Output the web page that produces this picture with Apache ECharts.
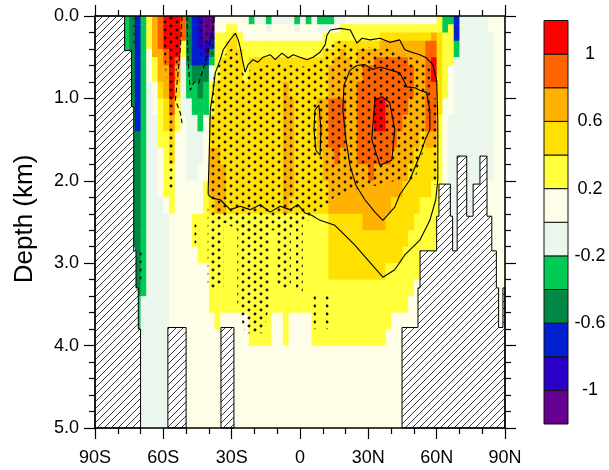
<!DOCTYPE html>
<html><head><meta charset="utf-8">
<script src="https://cdn.jsdelivr.net/npm/echarts@6/dist/echarts.min.js"></script>
<style>html,body{margin:0;padding:0;background:#fff;}#chart{width:609px;height:470px;}</style>
</head><body><div id="chart"></div>
<script>
// ---------- DATA ----------
const latEdges = [-77.5,-75,-72.5,-70,-67.5,-65,-62.5,-60,-57.5,-55,-52.5,-50,-47.5,-45,-42.5,-40,-37.5,-35,-32.5,-30,-27.5,-25,-22.5,-20,-17.5,-15,-12.5,-10,-7.5,-5,-2.5,0,2.5,5,7.5,10,12.5,15,17.5,20,22.5,25,27.5,30,32.5,35,37.5,40,42.5,45,47.5,50,52.5,55,57.5,60,62.5,65,67.5,70,72.5,75,77.5,80,82.5,85,87.5,90];
const depthEdges = [0,0.1,0.2,0.3,0.4,0.5,0.6,0.8,1.0,1.2,1.4,1.6,1.8,2.0,2.2,2.4,2.6,2.8,3.0,3.2,3.4,3.6,3.8,4.0,4.5,5.0];
// anomaly profiles, one per latitude band (top to bottom), null = land
const anomalyByLat = [
[-.3,-.3,-.3,-.3,-.3,null,null,null,null,null,null,null,null,null,null,null,null,null,null,null,null,null,null,null,null],
[-.5,-.5,-.5,-.5,-.5,-.5,-.5,-.5,-.5,-.5,-.5,-.5,-.5,-.5,-.5,-.5,-.5,null,null,null,null,null,null,null,null],
[-.7,-.7,-.7,-.7,-.7,-.7,-.7,-.7,-.7,-.7,-.5,-.5,-.5,-.5,-.5,-.5,-.5,-.5,-.5,-.5,-.3,-.3,null,null,null],
[-.3,-.3,-.3,-.3,-.3,-.3,-.3,-.3,-.3,-.3,-.3,-.3,-.3,-.3,-.3,-.3,-.3,-.3,-.3,-.3,-.1,-.1,-.1,-.1,-.1],
[.3,.3,.3,.3,.1,.1,.1,-.1,-.1,-.1,-.1,-.1,-.1,-.1,-.1,-.1,-.1,-.1,-.1,-.1,-.1,-.1,-.1,-.1,-.1],
[.7,.7,.7,.7,.7,.3,.3,.1,.1,-.1,-.1,-.1,-.1,-.1,-.1,-.1,-.1,-.1,-.1,-.1,-.1,-.1,-.1,-.1,-.1],
[.9,.9,.9,.9,.7,.7,.7,.5,.3,.3,.3,.1,.1,.1,-.1,-.1,-.1,-.1,-.1,-.1,-.1,-.1,-.1,-.1,-.1],
[1.1,1.1,1.1,1.1,.9,.9,.7,.7,.5,.5,.3,.3,.3,.3,.1,-.1,-.1,-.1,-.1,-.1,-.1,-.1,-.1,-.1,-.1],
[1.1,1.1,1.1,1.1,1.1,1.1,1.1,1.1,.9,.7,.5,.5,.3,.3,.3,.1,.1,.1,.1,.1,.1,.1,null,null,null],
[1.1,1.1,1.1,1.1,1.1,.9,.7,.5,.3,.3,.1,.1,.1,.1,.1,.1,.1,.1,.1,.1,.1,.1,null,null,null],
[.9,.9,.9,.3,.3,-.1,-.1,-.1,-.1,.1,.1,.1,.1,.1,.1,.1,.1,.1,.1,.1,.1,.1,null,null,null],
[-.5,-.5,-.5,-.5,-.5,-.5,-.3,-.3,-.1,-.1,-.1,-.1,-.1,.1,.1,.1,.1,.1,.1,.1,.1,.1,.1,.1,.1],
[-.7,-.7,-.7,-.7,-.7,-.7,-.5,-.3,-.3,-.1,-.1,-.1,-.1,.1,.1,.3,.3,.1,.1,.1,.1,.1,.1,.1,.1],
[-.9,-.9,-.9,-.9,-.7,-.7,-.5,-.5,-.3,-.3,-.1,-.1,.1,.1,.1,.3,.3,.3,.1,.1,.1,.1,.1,.1,.1],
[-1.1,-1.1,-1.1,-.9,-.9,-.7,-.5,-.3,-.3,.1,.1,.1,.1,.3,.3,.3,.3,.3,.1,.1,.1,.1,.1,.1,.1],
[-1.1,-1.1,-.9,-.7,-.5,-.3,-.1,.3,.3,.5,.5,.7,.7,.7,.5,.3,.3,.3,.3,.3,.3,.1,.1,.1,.1],
[.1,.1,.3,.3,.3,.3,.3,.5,.5,.5,.5,.7,.7,.7,.7,.3,.3,.3,.3,.3,.3,.3,.1,.1,.1],
[.1,.1,.3,.3,.3,.5,.5,.5,.5,.5,.5,.5,.7,.7,.7,.3,.3,.3,.3,.3,.3,.1,null,null,null],
[.1,.3,.3,.5,.5,.5,.5,.5,.5,.5,.5,.5,.5,.5,.5,.3,.3,.3,.3,.3,.3,.1,null,null,null],
[.1,.3,.5,.5,.5,.5,.5,.5,.5,.5,.5,.5,.5,.5,.5,.3,.3,.3,.3,.3,.3,.1,.1,.1,.1],
[.1,.1,.3,.3,.5,.5,.5,.5,.5,.5,.5,.5,.5,.5,.5,.3,.3,.3,.3,.3,.3,.1,.1,.1,.1],
[.1,.1,.1,.3,.3,.3,.3,.5,.5,.5,.5,.5,.5,.5,.5,.3,.3,.3,.3,.3,.3,.1,.1,.1,.1],
[-.3,.1,.1,.3,.3,.5,.5,.5,.5,.5,.5,.5,.5,.5,.5,.3,.3,.3,.3,.3,.3,.3,.3,.1,.1],
[-.1,.1,.1,.3,.3,.5,.5,.5,.5,.5,.5,.5,.5,.5,.5,.3,.3,.3,.3,.3,.3,.3,.3,.1,.1],
[-.1,.1,.1,.3,.3,.5,.5,.5,.5,.5,.5,.5,.5,.5,.5,.3,.3,.3,.3,.3,.3,.3,.3,.1,.1],
[-.3,-.1,.1,.3,.3,.5,.5,.5,.5,.5,.5,.5,.5,.5,.5,.3,.3,.3,.3,.3,.3,.3,.3,.1,.1],
[-.1,.1,.1,.3,.3,.5,.5,.5,.5,.5,.5,.5,.5,.5,.5,.3,.3,.3,.3,.3,.3,.1,.1,.1,.1],
[-.1,.1,.1,.3,.3,.5,.5,.5,.5,.5,.5,.5,.5,.5,.5,.3,.3,.3,.3,.3,.3,.1,.1,.1,.1],
[-.1,.1,.1,.3,.3,.5,.5,.7,.7,.7,.7,.7,.7,.7,.7,.3,.3,.3,.3,.3,.3,.3,.3,.1,.1],
[-.1,.1,.1,.3,.3,.5,.5,.5,.7,.7,.7,.7,.7,.7,.5,.3,.3,.3,.3,.3,.3,.1,.1,.1,.1],
[-.3,-.1,.1,.3,.3,.5,.5,.5,.5,.5,.5,.5,.5,.5,.5,.3,.3,.3,.3,.3,.3,.1,.1,.1,.1],
[-.1,.1,.1,.3,.3,.5,.5,.5,.5,.5,.5,.5,.5,.5,.5,.3,.3,.3,.3,.3,.3,.1,.1,.1,.1],
[-.3,.1,.1,.3,.3,.5,.5,.5,.5,.5,.5,.5,.5,.5,.5,.3,.3,.3,.3,.3,.3,.1,.1,.1,.1],
[-.1,.1,.1,.3,.3,.5,.5,.5,.5,.5,.5,.5,.5,.5,.5,.3,.3,.3,.3,.3,.3,.3,.3,.1,.1],
[-.3,-.1,.1,.3,.3,.5,.5,.5,.7,.7,.7,.5,.5,.5,.5,.3,.3,.3,.3,.3,.3,.3,.3,.1,.1],
[-.3,-.1,.3,.3,.5,.5,.5,.5,.7,.7,.7,.7,.7,.5,.5,.3,.3,.3,.3,.3,.3,.3,.3,.1,.1],
[-.3,.1,.3,.3,.5,.5,.7,.7,.9,.9,.9,.7,.7,.7,.7,.5,.5,.5,.5,.3,.3,.3,.3,.1,.1],
[-.1,.1,.3,.5,.5,.7,.7,.7,.9,.9,.9,.9,.7,.7,.7,.5,.5,.5,.5,.3,.3,.3,.3,.1,.1],
[-.1,.3,.3,.5,.7,.7,.7,.7,.9,.9,.9,.7,.7,.7,.7,.5,.5,.5,.5,.3,.3,.3,.3,.1,.1],
[.1,.3,.3,.5,.5,.7,.7,.7,.7,.7,.7,.7,.7,.7,.7,.5,.5,.5,.5,.3,.3,.3,.3,.1,.1],
[.1,.3,.3,.5,.5,.5,.7,.7,.7,.7,.7,.7,.7,.7,.7,.5,.5,.5,.5,.3,.3,.3,.3,.1,.1],
[.1,.3,.3,.5,.7,.7,.7,.9,.9,.9,.9,.9,.7,.7,.7,.5,.5,.5,.5,.3,.3,.3,.3,.1,.1],
[.1,.3,.3,.5,.7,.7,.9,.9,.9,.9,.9,.9,.7,.7,.7,.7,.5,.5,.5,.3,.3,.3,.3,.1,.1],
[.1,.3,.3,.5,.7,.7,.9,.9,.9,.9,.9,.9,.9,.7,.7,.7,.5,.5,.5,.3,.3,.3,.3,.1,.1],
[.1,.3,.3,.5,.7,.9,.9,.9,1.1,1.1,.9,.9,.7,.7,.7,.7,.5,.5,.5,.3,.3,.3,.3,.1,.1],
[.1,.3,.5,.7,.7,.9,.9,.9,1.1,1.1,.9,.9,.7,.7,.7,.7,.5,.5,.5,.3,.3,.3,.3,.1,.1],
[.1,.3,.5,.7,.7,.9,.9,.9,.9,.9,.9,.9,.7,.7,.7,.5,.5,.5,.3,.3,.3,.3,.1,.1,.1],
[.1,.3,.5,.7,.7,.9,.9,.9,.9,.9,.9,.7,.7,.7,.5,.5,.5,.5,.3,.3,.3,.1,.1,.1,.1],
[.1,.3,.5,.7,.7,.9,.9,.9,.9,.9,.7,.7,.7,.7,.5,.5,.5,.5,.3,.3,.3,.1,.1,.1,.1],
[.1,.3,.5,.7,.7,.9,.9,.9,.9,.7,.7,.7,.7,.5,.5,.5,.5,.3,.3,.3,.3,.1,null,null,null],
[.1,.3,.5,.7,.7,.7,.9,.9,.7,.7,.7,.7,.5,.5,.5,.5,.3,.3,.3,.3,.1,.1,null,null,null],
[.1,.3,.5,.7,.7,.7,.7,.7,.7,.7,.7,.5,.5,.5,.5,.3,.3,.3,.3,.1,.1,.1,null,null,null],
[.1,.3,.5,.7,.7,.7,.7,.7,.7,.7,.5,.5,.5,.5,.3,.3,.3,.3,null,null,null,null,null,null,null],
[.1,.3,.5,.9,.9,.9,.9,.9,.9,.9,.7,.5,.5,.5,.3,.3,.3,.3,null,null,null,null,null,null,null],
[.1,.3,.7,.9,.9,1.1,1.1,.9,.9,.9,.7,.5,.5,.3,.3,.3,.3,.3,null,null,null,null,null,null,null],
[.3,.3,.5,.5,.5,.5,.5,.5,.5,.3,.3,.3,.3,.3,.3,null,null,null,null,null,null,null,null,null,null],
[-.3,-.3,.3,.3,.3,.3,.3,.3,.1,.1,.1,.1,.1,.1,null,null,null,null,null,null,null,null,null,null,null],
[-.3,.3,.3,.3,.3,.3,.1,.1,.1,-.1,-.1,-.1,-.1,-.1,-.1,-.1,-.1,null,null,null,null,null,null,null,null],
[-.7,-.7,-.7,-.3,-.3,-.1,-.1,-.1,-.1,-.1,-.1,-.1,-.1,-.1,-.1,-.1,-.1,-.1,null,null,null,null,null,null,null],
[-.1,-.1,-.1,-.1,-.1,-.1,-.1,-.1,-.1,-.1,-.1,-.1,null,null,null,null,null,null,null,null,null,null,null,null,null],
[-.1,-.1,-.1,-.1,-.1,-.1,-.1,-.1,-.1,-.1,-.1,-.1,-.1,-.1,-.1,null,null,null,null,null,null,null,null,null,null],
[-.1,-.1,-.1,-.1,-.1,-.1,-.1,-.1,-.1,-.1,-.1,-.1,-.1,-.1,-.1,null,null,null,null,null,null,null,null,null,null],
[-.1,-.1,-.1,-.1,-.1,-.1,-.1,-.1,-.1,-.1,-.1,-.1,-.1,-.1,null,null,null,null,null,null,null,null,null,null,null],
[-.1,-.1,-.1,-.1,-.1,-.1,-.1,-.1,-.1,-.1,-.1,-.1,null,null,null,null,null,null,null,null,null,null,null,null,null],
[.1,.1,-.1,-.1,-.1,-.1,-.1,-.1,-.1,-.1,-.1,-.1,-.1,.1,.1,.1,.1,null,null,null,null,null,null,null,null],
[.1,.1,.1,.1,.1,.1,.1,.1,.1,.1,.1,.1,.1,.1,.1,.1,.1,.1,.1,.1,.1,.1,null,null,null],
[.1,.1,.1,.1,.1,.1,.1,.1,.1,.1,.1,.1,.1,.1,.1,.1,.1,.1,.1,.1,.1,.1,null,null,null]
];
const latTickLabels = ['90S','60S','30S','0','30N','60N','90N'];
const cbBounds = [-1.2,-1,-0.8,-0.6,-0.4,-0.2,0,0.2,0.4,0.6,0.8,1,1.2];
const cbTickValues = [-1,-0.6,-0.2,0.2,0.6,1];
const cbTickLabels = ['-1','-0.6','-0.2','0.2','0.6','1'];
// bathymetry (lat, depth km)
const landWest = [[-90,0],[-77,0],[-77,0.42],[-74,0.42],[-74,1.1],[-73,1.1],[-73,2.85],[-72,2.85],[-72,3.3],[-71,3.3],[-71,3.8],[-70,3.8],[-70,5],[-90,5]];
const landRidge58S = [[-58,3.78],[-50,3.78],[-50,5],[-58,5]];
const landRidge32S = [[-34.7,3.78],[-29,3.78],[-29,5],[-34.7,5]];
const landArctic = [[44.8,5],[44.8,3.78],[51.8,3.78],[51.8,3.3],[52.7,3.3],[52.7,2.85],[60,2.85],[60,2.43],[61,2.43],[61,2.04],[66,2.04],[66,2.43],[67,2.43],[67,2.85],[69,2.85],[69,1.7],[73.2,1.7],[73.2,2.43],[76,2.43],[76,2.04],[79,2.04],[79,1.7],[82.1,1.7],[82.1,2.43],[84.2,2.43],[84.2,2.85],[86.2,2.85],[86.2,3.3],[87.2,3.3],[87.2,3.78],[89.1,3.78],[89.1,3.3],[90,3.3],[90,5]];
// significance (stippled) regions
const sigTail60S = [[-60.6,0],[-52,0],[-53.5,0.5],[-55.6,1.0],[-55.8,2.1],[-57.8,2.1],[-58,1.0],[-59.5,0.5]];
const sigCoast74S = [[-74,0.02],[-72.6,0.02],[-72.6,0.38],[-74,0.38]];
const sigSlope71S = [[-71.3,2.85],[-69.6,2.85],[-69.6,3.25],[-71.3,3.25]];
const sigNeg42S = [[-44,0.05],[-37.2,0.05],[-38.5,0.5],[-43.5,0.5]];
const sigMain = [[-38,0.75],[-35,0.55],[-31.5,0.42],[-28.5,0.38],[-27,0.5],[-24,0.78],[-22,0.65],[-15,0.6],[-8,0.58],[0,0.62],[5,0.6],[9,0.52],[12,0.35],[18,0.3],[24,0.4],[30,0.38],[40,0.4],[48,0.5],[55,0.55],[57,0.62],[57,1.1],[55.5,1.4],[53,1.8],[50,2.0],[42,2.0],[35,2.05],[25,2.1],[15,2.2],[8,2.4],[3,2.5],[-5,2.6],[-15,2.6],[-27,2.6],[-34,2.5],[-39.5,2.3],[-39.8,1.5],[-39,1.0]];
const sigDeepA = [[-40.5,2.3],[-33.5,2.3],[-33.5,3.3],[-40.5,3.3]];
const sigDeepB = [[-27.5,2.5],[-13.5,2.5],[-13.5,3.5],[-16,3.85],[-24,3.85],[-27.5,3.5]];
const sigDeepC = [[-10.5,2.5],[-4,2.5],[-4,3.3],[-10.5,3.3]];
const sigDeepD = [[-1.8,2.5],[1.2,2.5],[1.2,3.35],[-1.8,3.35]];
const sigDeepE = [[4.8,3.35],[7,3.35],[7,3.8],[4.8,3.8]];
const sigDeepF = [[11.3,3.35],[13.5,3.35],[13.5,3.8],[11.3,3.8]];
const sigSlope45S = [[-46.3,2.5],[-44.2,2.5],[-44.2,2.8],[-46.3,2.8]];
const sig60N = [[57.5,1.0],[60,1.0],[60,2.05],[57.5,2.05]];
// contour lines (lat, depth km)
const contourOuter = [[-40.3,2.17],[-40.3,2.11],[-39.8,1.63],[-39.4,1.14],[-38.1,0.9],[-37.2,0.69],[-35,0.53],[-33.7,0.41],[-31.5,0.32],[-29.3,0.24],[-28.4,0.21],[-27.1,0.29],[-26.2,0.39],[-25.5,0.5],[-24.1,0.68],[-22.8,0.59],[-20.6,0.53],[-18.5,0.56],[-16.2,0.5],[-13.1,0.47],[-10.9,0.53],[-7.9,0.45],[-5.2,0.51],[-3,0.47],[0,0.5],[3.1,0.53],[5.7,0.5],[8.8,0.44],[11,0.35],[11.9,0.23],[13.3,0.17],[17.7,0.15],[22.1,0.17],[25,0.33],[27.2,0.27],[30.8,0.29],[35.1,0.27],[39.4,0.32],[43.8,0.29],[46,0.41],[49,0.44],[52.6,0.47],[55.6,0.51],[58.3,0.59],[60,0.78],[60.5,1.26],[60.5,1.99],[59.6,2.23],[57,2.48],[52.6,2.72],[46,2.9],[41.6,3.08],[36.4,3.17],[30.7,2.99],[24.1,2.78],[19.7,2.66],[15.3,2.54],[8.8,2.48],[5.3,2.42],[2.2,2.39],[-0.9,2.29],[-4.4,2.35],[-8.7,2.31],[-13.1,2.38],[-17.5,2.29],[-21.9,2.35],[-26.3,2.31],[-30.6,2.35],[-35,2.23],[-38.5,2.21],[-40.3,2.17]];
const contourInner = [[21.9,0.66],[25,0.6],[28.5,0.59],[32,0.65],[35.1,0.62],[40.3,0.66],[43.8,0.69],[46.9,0.86],[50.4,0.87],[52.6,0.9],[55.6,0.93],[57,1.14],[57,1.38],[55,1.5],[52.6,1.69],[48.2,1.99],[43.8,2.17],[41.6,2.32],[36.4,2.48],[32.9,2.38],[28.5,2.23],[24.5,2.05],[21.9,1.81],[20.2,1.5],[18.8,1.14],[19.3,0.84],[21.9,0.66]];
const contourCore = [[32.9,1.02],[36,0.98],[39.4,1.05],[41.6,1.38],[40.3,1.75],[35.1,1.81],[31.5,1.5],[32.9,1.02]];
const contour7N = [[6.6,1.14],[8.3,1.08],[9.2,1.38],[8.8,1.69],[7,1.63],[6.1,1.38],[6.6,1.14]];
const contourNegA = [[-51.8,0],[-52.5,0.38],[-54,0.82],[-54.7,1.02],[-52.5,1.18],[-51.8,1.3]];
const contourNegB = [[-49.6,0],[-49.3,0.4],[-48.5,0.8],[-48.2,0.9],[-46.5,0.8],[-44.5,0.82],[-42,0.6],[-40.5,0.45],[-38.5,0.2],[-37.5,0]];

// ---------- STYLE ----------
const palette = ['#660090','#2A00C8','#0020D0','#008844','#00CC55','#EBF6EC','#FEFEE8','#FFFF3C','#FFE000','#FFB000','#FF6400','#FF0000'];
const levelBounds = cbBounds.slice(1, -1);
function colorOf(v){ let k = 0; while (k < levelBounds.length && v > levelBounds[k]) k++; return palette[k]; }
const FONT = '"Liberation Sans", Arial, Helvetica, sans-serif';

function makeHatch(){
  const s = 7, c = document.createElement('canvas'); c.width = s; c.height = s;
  const g = c.getContext('2d'); g.fillStyle = '#fff'; g.fillRect(0,0,s,s);
  g.strokeStyle = '#222'; g.lineWidth = 0.9; g.beginPath();
  g.moveTo(-1, s+1); g.lineTo(s+1, -1); g.moveTo(-1,1); g.lineTo(1,-1); g.moveTo(s-1,s+1); g.lineTo(s+1,s-1); g.stroke();
  return c;
}
function makeDots(){
  const c = document.createElement('canvas'); c.width = 12; c.height = 8;
  const g = c.getContext('2d'); g.fillStyle = '#111';
  g.beginPath(); g.arc(3,2,1.45,0,Math.PI*2); g.fill();
  g.beginPath(); g.arc(9,6,1.45,0,Math.PI*2); g.fill();
  return c;
}
const hatchFill = {image: makeHatch(), repeat: 'repeat'};
const dotFill = {image: makeDots(), repeat: 'repeat'};

// cells
const cells = [];
for (let i = 0; i < anomalyByLat.length; i++) {
  for (let j = 0; j < depthEdges.length - 1; j++) {
    const v = anomalyByLat[i][j];
    if (v === null) continue;
    cells.push([latEdges[i], latEdges[i+1], depthEdges[j], depthEdges[j+1], v]);
  }
}
const cbCells = [];
for (let k = 0; k < cbBounds.length - 1; k++) cbCells.push([0, 1, cbBounds[k], cbBounds[k+1], k]);

function polySeries(polys, style, z){
  return {type:'custom', xAxisIndex:0, yAxisIndex:0, z, silent:true, animation:false,
    data: polys.map((p,k)=>[k]),
    renderItem:(params, api)=>({type:'polygon', shape:{points: polys[params.dataIndex].map(pt=>api.coord(pt))}, style: Object.assign({}, style)})};
}
function lineSeries(pts, dashed){
  return {type:'line', xAxisIndex:0, yAxisIndex:0, z:5, silent:true, animation:false, data:pts, showSymbol:false, symbol:'none',
    lineStyle:{color:'#000', width:1.1, type: dashed ? [5,3] : 'solid'}};
}

const axisCommon = {
  axisLine:{show:true, onZero:false, lineStyle:{color:'#000', width:1.6}},
  axisTick:{show:true, length:11, lineStyle:{color:'#000', width:1.2}},
  minorTick:{show:true, length:6, lineStyle:{color:'#000', width:1.2}},
  splitLine:{show:false}, minorSplitLine:{show:false}, z:10
};

const chart = echarts.init(document.getElementById('chart'), null, {renderer:'canvas'});
chart.setOption({
  animation:false,
  backgroundColor:'#fff',
  grid:[
    {left:95, right:104, top:16, bottom:42, containLabel:false, outerBoundsMode:'none'},
    {left:544, right:41, top:20.5, bottom:46, containLabel:false, outerBoundsMode:'none'}
  ],
  xAxis:[
    Object.assign({type:'value', gridIndex:0, position:'bottom', min:-90, max:90, interval:30,
      axisLabel:{show:true, margin:21, fontSize:18, fontFamily:FONT, color:'#000', showMinLabel:true, showMaxLabel:true,
        formatter:(v)=>latTickLabels[Math.round((v+90)/30)]}}, axisCommon,
      {minorTick:Object.assign({}, axisCommon.minorTick, {splitNumber:3})}),
    Object.assign({type:'value', gridIndex:0, position:'top', min:-90, max:90, interval:30, axisLabel:{show:false}}, axisCommon,
      {minorTick:Object.assign({}, axisCommon.minorTick, {splitNumber:3})}),
    {type:'value', gridIndex:1, min:0, max:1, show:false}
  ],
  yAxis:[
    Object.assign({type:'value', gridIndex:0, position:'left', inverse:true, min:0, max:5, interval:1,
      axisLabel:{show:true, margin:16, fontSize:18, fontFamily:FONT, color:'#000', showMinLabel:true, showMaxLabel:true,
        formatter:(v)=>v.toFixed(1)}}, axisCommon,
      {minorTick:Object.assign({}, axisCommon.minorTick, {splitNumber:5})}),
    Object.assign({type:'value', gridIndex:0, position:'right', inverse:true, min:0, max:5, interval:1, axisLabel:{show:false}}, axisCommon,
      {minorTick:Object.assign({}, axisCommon.minorTick, {splitNumber:5})}),
    {type:'value', gridIndex:1, position:'right', min:-1.2, max:1.2, interval:0.2,
      axisLine:{show:false}, axisTick:{show:false}, splitLine:{show:false},
      axisLabel:{show:true, margin:22, align:'center', fontSize:18, fontFamily:FONT, color:'#000', showMinLabel:true, showMaxLabel:true,
        formatter:(v)=>{ for (let k=0;k<cbTickValues.length;k++) if (Math.abs(v-cbTickValues[k])<1e-6) return cbTickLabels[k]; return ''; }}}
  ],
  graphic:[{type:'text', x:25, y:219, rotation:Math.PI/2, z:20,
    style:{text:'Depth (km)', font:'26px ' + FONT, fill:'#000', align:'center', verticalAlign:'middle'}}],
  series:[
    {type:'custom', xAxisIndex:0, yAxisIndex:0, z:1, silent:true, animation:false, progressive:0, data:cells,
      encode:{x:[0,1], y:[2,3]},
      renderItem:(params, api)=>{
        const p0 = api.coord([api.value(0), api.value(2)]);
        const p1 = api.coord([api.value(1), api.value(3)]);
        return {type:'rect', shape:{x:Math.min(p0[0],p1[0]), y:Math.min(p0[1],p1[1]), width:Math.abs(p1[0]-p0[0])+0.6, height:Math.abs(p1[1]-p0[1])+0.6},
          style:{fill: colorOf(api.value(4))}};
      }},
    polySeries([sigTail60S, sigCoast74S, sigSlope71S, sigNeg42S, sigMain, sigDeepA, sigDeepB, sigDeepC, sigDeepD, sigDeepE, sigDeepF, sigSlope45S, sig60N], {fill: dotFill, stroke: null}, 3),
    lineSeries(contourOuter, false),
    lineSeries(contourInner, false),
    lineSeries(contourCore, false),
    lineSeries(contour7N, false),
    lineSeries(contourNegA, true),
    lineSeries(contourNegB, true),
    polySeries([landWest, landRidge58S, landRidge32S, landArctic], {fill: hatchFill, stroke:'#000', lineWidth:1}, 6),
    {type:'custom', xAxisIndex:2, yAxisIndex:2, z:2, silent:true, animation:false, data:cbCells,
      renderItem:(params, api)=>{
        const p0 = api.coord([api.value(0), api.value(2)]);
        const p1 = api.coord([api.value(1), api.value(3)]);
        return {type:'rect', shape:{x:Math.min(p0[0],p1[0]), y:Math.min(p0[1],p1[1]), width:Math.abs(p1[0]-p0[0]), height:Math.abs(p1[1]-p0[1])},
          style:{fill: palette[api.value(4)], stroke:'#111', lineWidth:1}};
      }}
  ]
});
</script></body></html>
